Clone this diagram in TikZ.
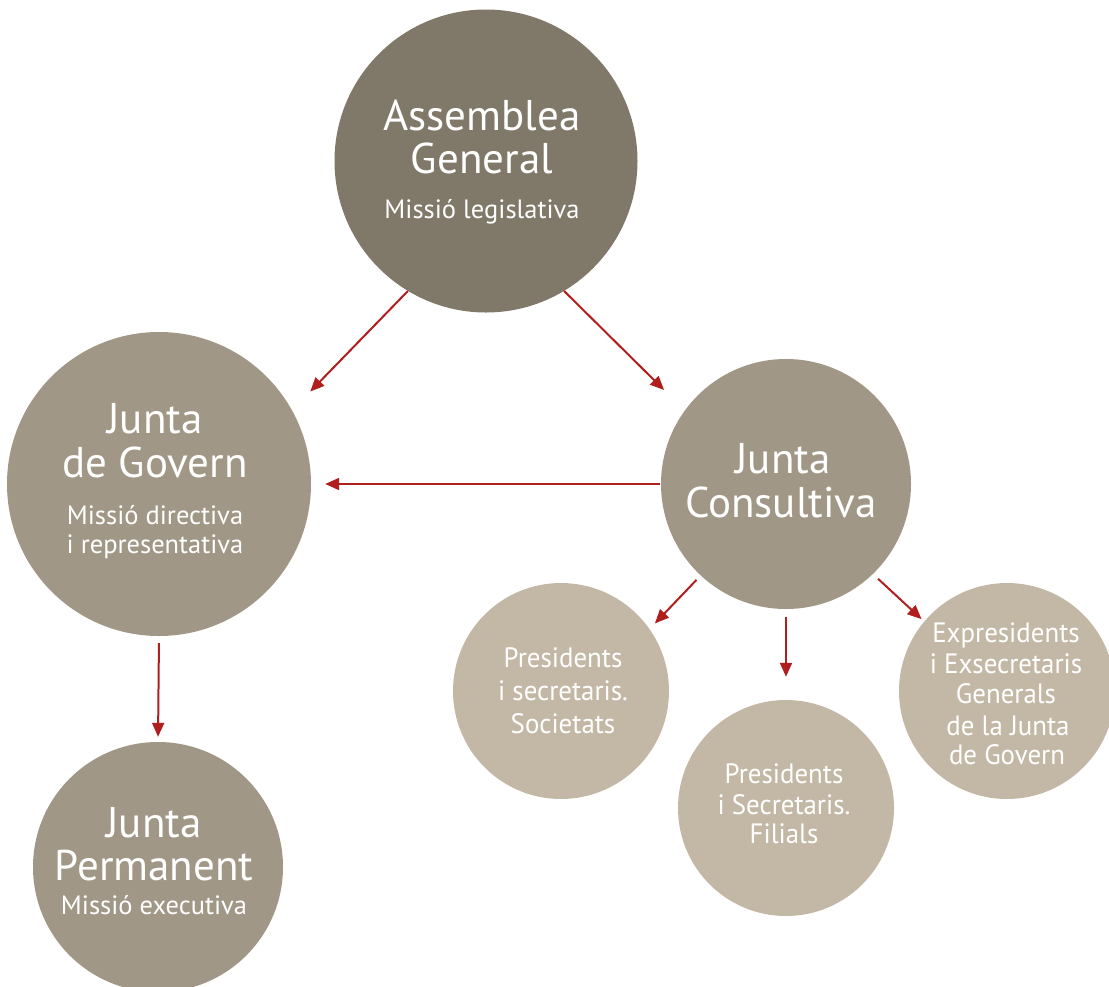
\documentclass[tikz,border=0pt]{standalone}
\usepackage{fontspec}
\setmainfont{PT Sans}
\newfontfamily\narrowfont[FakeStretch=0.96]{PT Sans}
\usetikzlibrary{arrows.meta}
\definecolor{cdark}{HTML}{807869}
\definecolor{cmid}{HTML}{A09786}
\definecolor{clight}{HTML}{C3B8A5}
\definecolor{cred}{HTML}{B01E1E}
\begin{document}
\begin{tikzpicture}[x=1pt,y=-1pt,
 circ/.style={circle,inner sep=0pt,draw=none},
 head/.style={text=white,anchor=base,font=\fontsize{43}{43}\selectfont,inner sep=0pt},
 sub/.style={text=white,anchor=base,font=\fontsize{26.5}{26.5}\selectfont,inner sep=0pt},
 small/.style={text=white,anchor=base,font=\narrowfont\fontsize{28}{28}\selectfont,inner sep=0pt},
 arr/.style={draw=cred,line width=2pt,-{Triangle[length=14pt,width=12pt]}}]
\useasboundingbox (0,0) rectangle (1109,986);
\clip (0,0) rectangle (1109,986);
% circles
\node[circ,fill=cdark,minimum size=303pt] (A) at (486,161) {};
\node[circ,fill=cmid,minimum size=304pt] (G) at (159,484) {};
\node[circ,fill=cmid,minimum size=250pt] (C) at (786,484) {};
\node[circ,fill=cmid,minimum size=250pt] (P) at (158,867) {};
\node[circ,fill=clight,minimum size=216pt] (S) at (561,691) {};
\node[circ,fill=clight,minimum size=216pt] (F) at (786,808) {};
\node[circ,fill=clight,minimum size=216pt] (E) at (1007,691) {};
% texts
\node[head] (tA1) at (482,130) {Assemblea};
\node[head] (tA2) at (482,173) {General};
\node[sub] (tA3) at (482,218) {Missió legislativa};
\node[head] (tG1) at (155,433) {Junta};
\node[head] (tG2) at (155,477) {de Govern};
\node[sub] (tG3) at (155,524) {Missió directiva};
\node[sub] (tG4) at (155,553) {i representativa};
\node[head] (tC1) at (783,473) {Junta};
\node[head] (tC2) at (781,517) {Consultiva};
\node[head] (tP1) at (154,837) {Junta};
\node[head] (tP2) at (154,880) {Permanent};
\node[sub] (tP3) at (154,914) {Missió executiva};
\node[small] (tS1) at (563,667) {Presidents};
\node[small] (tS2) at (563,700) {i secretaris.};
\node[small] (tS3) at (563,733) {Societats};
\node[small] (tF1) at (784,783) {Presidents};
\node[small] (tF2) at (784,814) {i Secretaris.};
\node[small] (tF3) at (784,843) {Filials};
\node[small] (tE1) at (1006,642) {Expresidents};
\node[small] (tE2) at (1006,673) {i Exsecretaris};
\node[small] (tE3) at (1006,703) {Generals};
\node[small] (tE4) at (1008,735) {de la Junta};
\node[small] (tE5) at (1007,764) {de Govern};
% arrows
\draw[arr,shorten >=26pt] (A.239) -- (G.29.3);
\draw[arr,shorten >=29pt] (A.301.5) -- (C.144.1);
\draw[arr,shorten <=1pt,shorten >=14pt] (C.west) -- (G.east);
\draw[arr,shorten <=7pt,shorten >=5pt] (G.south) -- (P.north);
\draw[arr,shorten <=6pt,shorten >=7.6pt] (C.227.2) -- (S.35.7);
\draw[arr,shorten <=8pt,shorten >=23pt] (C.south) -- (F.north);
\draw[arr,shorten <=7pt,shorten >=3.5pt] (C.314.7) -- (E.140.6);
\end{tikzpicture}
\end{document}
